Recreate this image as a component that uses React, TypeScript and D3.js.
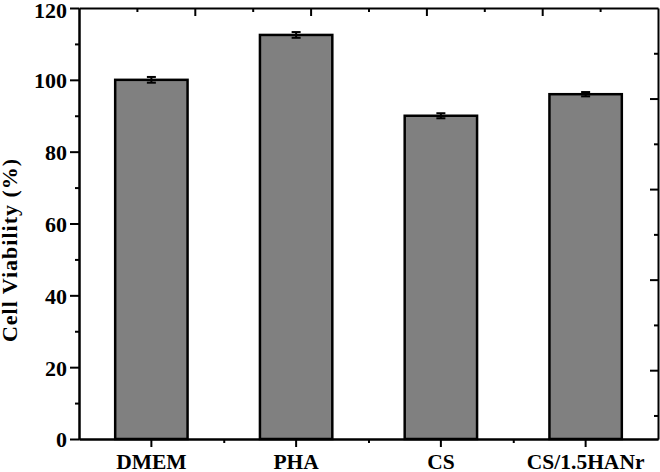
import React, { useRef, useEffect } from 'react';
import * as d3 from 'd3';

// --- Data ---
const categories = ['DMEM', 'PHA', 'CS', 'CS/1.5HANr'];
const viability = [100, 112.5, 90, 96];
const errors = [0.8, 0.8, 0.7, 0.6];
const yMajorTicks = [0, 20, 40, 60, 80, 100, 120];
const yMinorTicks = [10, 30, 50, 70, 90, 110];
// secondary (top / right) frame ticks, no labels
const frameTicks = [0.5, 1, 1.5, 2, 2.5, 3, 3.5, 4, 4.5];

const W = 660;
const H = 472;
const FONT = '"Liberation Serif", "Times New Roman", serif';

const App = () => {
    const ref = useRef<SVGSVGElement>(null);

    useEffect(() => {
        const svg = d3.select(ref.current);
        svg.selectAll('*').remove();

        const left = 79, right = 658, top = 8, bottom = 439;

        // --- Scales ---
        const x = d3.scaleBand<string>()
            .domain(categories)
            .range([left, right])
            .paddingInner(0.5)
            .paddingOuter(0.25);
        const xEdge = d3.scaleLinear().domain([0, categories.length]).range([left, right]);
        const y = d3.scaleLinear().domain([0, 120]).range([bottom, top]);
        const xTop = d3.scaleLinear().domain([0, 5]).range([left, right]);
        const yRight = d3.scaleLinear().domain([0.24, 5]).range([bottom, top]);

        const styleAxis = (g, size = '21px') => {
            g.selectAll('.domain, .tick line').attr('stroke', '#000').attr('stroke-width', 2);
            g.selectAll('text')
                .attr('fill', '#000')
                .style('font-family', FONT)
                .style('font-weight', 'bold')
                .style('font-size', size);
        };

        // --- Bars ---
        svg.append('g')
            .selectAll('rect')
            .data(categories)
            .enter()
            .append('rect')
            .attr('x', d => x(d))
            .attr('y', (d, i) => y(viability[i]))
            .attr('width', x.bandwidth())
            .attr('height', (d, i) => y(0) - y(viability[i]))
            .attr('fill', '#808080')
            .attr('stroke', '#000')
            .attr('stroke-width', 2.5);

        // --- Error bars ---
        const eb = svg.append('g').attr('stroke', '#000').attr('stroke-width', 2);
        categories.forEach((c, i) => {
            const cx = x(c) + x.bandwidth() / 2;
            const hi = y(viability[i] + errors[i]);
            const lo = y(viability[i] - errors[i]);
            eb.append('line').attr('x1', cx).attr('x2', cx).attr('y1', hi).attr('y2', lo);
            [hi, lo].forEach(v => {
                eb.append('line').attr('x1', cx - 4.5).attr('x2', cx + 4.5).attr('y1', v).attr('y2', v);
            });
        });

        // --- Left axis (major + minor, outward) ---
        svg.append('g')
            .attr('transform', `translate(${left},0)`)
            .call(d3.axisLeft(y).tickValues(yMinorTicks).tickSize(4).tickSizeOuter(0).tickFormat(() => ''))
            .call(styleAxis);
        svg.append('g')
            .attr('transform', `translate(${left},0)`)
            .call(d3.axisLeft(y).tickValues(yMajorTicks).tickSize(9).tickSizeOuter(0).tickPadding(3))
            .call(g => styleAxis(g, '22px'))
            .selectAll('text')
            .attr('dy', (d: number) => (d === 120 ? '0.42em' : '0.36em'));

        // --- Bottom axis ---
        svg.append('g')
            .attr('transform', `translate(0,${bottom})`)
            .call(d3.axisBottom(xEdge).tickValues([1, 2, 3]).tickSize(4).tickSizeOuter(0).tickFormat(() => ''))
            .call(styleAxis);
        svg.append('g')
            .attr('transform', `translate(0,${bottom})`)
            .call(d3.axisBottom(x).tickSize(8).tickSizeOuter(0).tickPadding(7))
            .call(g => styleAxis(g, '21.5px'))
            .selectAll('text')
            .attr('dy', '0.68em');

        // --- Top frame axis (ticks inward) ---
        svg.append('g')
            .attr('transform', `translate(0,${top})`)
            .call(d3.axisBottom(xTop).tickValues(frameTicks).tickSizeOuter(0).tickFormat(() => ''))
            .call(styleAxis)
            .selectAll('.tick line')
            .attr('y2', (d: number) => (Number.isInteger(d) ? 8 : 4));

        // --- Right frame axis (ticks inward) ---
        svg.append('g')
            .attr('transform', `translate(${right},0)`)
            .call(d3.axisLeft(yRight).tickValues(frameTicks).tickSizeOuter(0).tickFormat(() => ''))
            .call(styleAxis)
            .selectAll('.tick line')
            .attr('x2', (d: number) => (Number.isInteger(d) ? -8 : -4));

        // --- Y axis title ---
        svg.append('text')
            .attr('transform', `translate(17,250) rotate(-90)`)
            .attr('text-anchor', 'middle')
            .style('font-family', FONT)
            .style('font-weight', 'bold')
            .style('font-size', '22px')
            .style('letter-spacing', '1px')
            .text('Cell Viability (%)');
    }, []);

    return (
        <svg
            ref={ref}
            width={W}
            height={H}
            style={{ position: 'absolute', left: 0, top: 0, background: '#fff', display: 'block' }}
        ></svg>
    );
};

export default App;
